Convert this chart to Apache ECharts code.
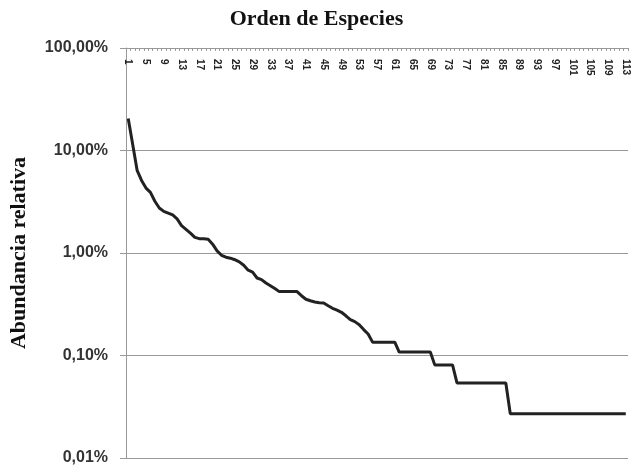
<!DOCTYPE html>
<html>
<head>
<meta charset="utf-8">
<script src="https://cdn.jsdelivr.net/npm/echarts@6/dist/echarts.min.js"></script>
<style>
html,body{margin:0;padding:0;background:#fff;}
#chart{width:633px;height:468px;}
</style>
</head>
<body>
<div id="chart"></div>
<script>
// Species rank (1..113)
const ranks = [];
for (let i = 1; i <= 113; i++) ranks.push(String(i));

// Relative abundance (%) by rank
const abundance = [
  20.5, 11.5, 6.4, 5.1, 4.3, 3.9, 3.2, 2.75, 2.55, 2.45,
  2.35, 2.15, 1.85, 1.7, 1.56, 1.42, 1.38, 1.38, 1.36, 1.22,
  1.05, 0.95, 0.91, 0.89, 0.86, 0.82, 0.76, 0.68, 0.65, 0.57,
  0.55, 0.51, 0.48, 0.45, 0.42, 0.42, 0.42, 0.42, 0.42, 0.383,
  0.354, 0.342, 0.333, 0.327, 0.325, 0.306, 0.289, 0.277, 0.264, 0.244,
  0.224, 0.214, 0.2, 0.179, 0.162, 0.135, 0.135, 0.135, 0.135, 0.135,
  0.135, 0.108, 0.108, 0.108, 0.108, 0.108, 0.108, 0.108, 0.108, 0.081,
  0.081, 0.081, 0.081, 0.081, 0.054, 0.054, 0.054, 0.054, 0.054, 0.054,
  0.054, 0.054, 0.054, 0.054, 0.054, 0.054, 0.027, 0.027, 0.027, 0.027,
  0.027, 0.027, 0.027, 0.027, 0.027, 0.027, 0.027, 0.027, 0.027, 0.027,
  0.027, 0.027, 0.027, 0.027, 0.027, 0.027, 0.027, 0.027, 0.027, 0.027,
  0.027, 0.027, 0.027
];

const titleText = 'Orden de Especies';
const yName = 'Abundancia relativa';

const chart = echarts.init(document.getElementById('chart'), null, {renderer: 'canvas'});
chart.setOption({
  animation: false,
  backgroundColor: '#ffffff',
  title: {
    text: titleText,
    left: 'center',
    top: 3,
    textStyle: {fontFamily: 'Liberation Serif', fontWeight: 'bold', fontSize: 22, color: '#111'}
  },
  grid: {left: 124, right: 5, top: 48, bottom: 10},
  xAxis: {
    type: 'category',
    position: 'top',
    data: ranks,
    boundaryGap: true,
    axisLine: {show: true, onZero: false, lineStyle: {color: '#999', width: 1}},
    axisTick: {show: true, inside: true, interval: 0, length: 3, lineStyle: {color: '#999'}},
    axisLabel: {
      show: true, inside: true, interval: 3, rotate: 90, margin: 11,
      fontFamily: 'Liberation Sans', fontWeight: 'bold', fontSize: 10, color: '#222'
    },
    splitLine: {show: false}
  },
  yAxis: {
    type: 'log',
    logBase: 10,
    min: 0.01,
    max: 100,
    name: yName,
    nameLocation: 'middle',
    nameGap: 96,
    nameTextStyle: {fontFamily: 'Liberation Serif', fontWeight: 'bold', fontSize: 22, color: '#111'},
    axisLine: {show: true, lineStyle: {color: '#999', width: 1}},
    axisTick: {show: true, length: 6, lineStyle: {color: '#999'}},
    axisLabel: {
      margin: 18,
      fontFamily: 'Liberation Sans', fontWeight: 'bold', fontSize: 16, color: '#333',
      formatter: function (v) { return v.toFixed(2).replace('.', ',') + '%'; }
    },
    splitLine: {show: true, lineStyle: {color: '#999', width: 1}}
  },
  series: [{
    type: 'line',
    data: abundance,
    showSymbol: false,
    symbol: 'none',
    lineStyle: {color: '#222', width: 3},
    silent: true
  }]
});
</script>
</body>
</html>
